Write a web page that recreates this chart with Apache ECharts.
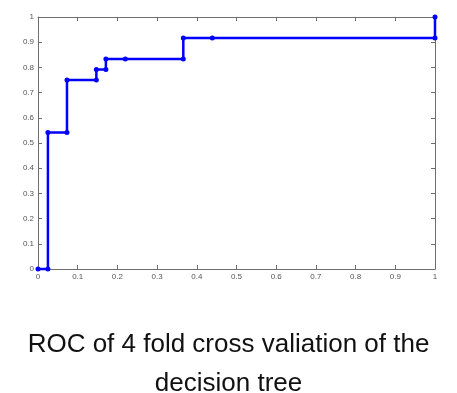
<!DOCTYPE html>
<html>
<head>
<meta charset="utf-8">
<script src="https://cdn.jsdelivr.net/npm/echarts@6/dist/echarts.min.js"></script>
<style>html,body{margin:0;padding:0;background:#fff;}#c{width:457px;height:393px;}</style>
</head>
<body>
<div id="c"></div>
<script>
const fpr = [0, 0.025, 0.025, 0.073, 0.073, 0.147, 0.147, 0.171, 0.171, 0.220, 0.366, 0.366, 0.439, 1, 1];
const tpr = [0, 0, 0.542, 0.542, 0.75, 0.75, 0.792, 0.792, 0.833, 0.833, 0.833, 0.917, 0.917, 0.917, 1];
const titleLines = ['ROC of 4 fold cross valiation of the', 'decision tree'];

const chart = echarts.init(document.getElementById('c'), null, {renderer: 'canvas'});
const axisCommon = {
  type: 'value', min: 0, max: 1, interval: 0.1,
  axisLine: {show: true, onZero: false, lineStyle: {color: '#6e6e6e', width: 1}},
  axisTick: {show: true, inside: true, length: 4, lineStyle: {color: '#6e6e6e'}},
  splitLine: {show: false}
};
const labelStyle = {fontFamily: 'Liberation Sans', fontSize: 8, color: '#555'};
chart.setOption({
  animation: false,
  backgroundColor: '#fff',
  title: {
    text: titleLines.join('\n'),
    left: 'center', top: 320,
    textStyle: {fontFamily: 'Liberation Sans', fontSize: 26, fontWeight: 'normal', color: '#111', lineHeight: 39}
  },
  grid: {left: 38, top: 17, right: 22, bottom: 124, containLabel: false},
  xAxis: [
    Object.assign({}, axisCommon, {position: 'bottom', axisLabel: Object.assign({margin: 4}, labelStyle)}),
    Object.assign({}, axisCommon, {position: 'top', axisLabel: {show: false}})
  ],
  yAxis: [
    Object.assign({}, axisCommon, {position: 'left', axisLabel: Object.assign({margin: 4}, labelStyle)}),
    Object.assign({}, axisCommon, {position: 'right', axisLabel: {show: false}})
  ],
  series: [{
    type: 'line',
    data: fpr.map((x, i) => [x, tpr[i]]),
    lineStyle: {color: '#0000ff', width: 2.5},
    itemStyle: {color: '#0000ff'},
    symbol: 'circle', symbolSize: 5, showAllSymbol: true,
    clip: false
  }]
});
</script>
</body>
</html>
